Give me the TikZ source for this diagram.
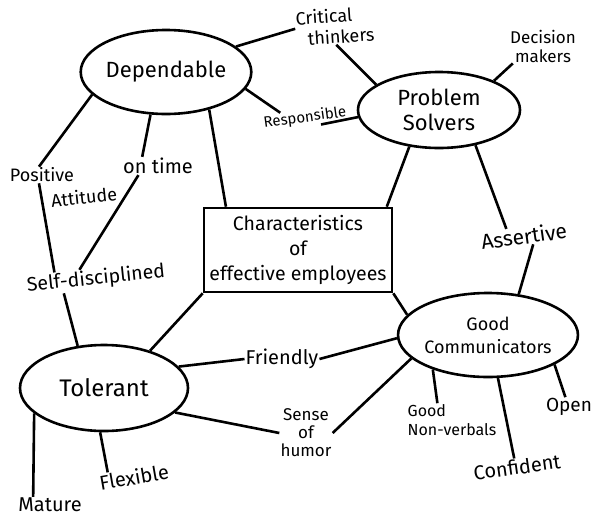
\documentclass[tikz,border=0pt]{standalone}
\usepackage{fontspec}
\setmainfont{Fira Sans}
\usetikzlibrary{shapes.geometric}
\tikzset{
  trait/.style={draw, ellipse, line width=2.6pt, inner sep=0pt, align=center,
    font=\fontsize{22}{25}\selectfont},
  quality/.style={inner sep=1pt, align=center, font=\fontsize{20}{21}\selectfont},
  link/.style={line width=2.6pt}
}
\begin{document}
\begin{tikzpicture}[x=1pt, y=-1pt]
\useasboundingbox (0,0) rectangle (592,517);

\node[draw, line width=2.6pt, minimum width=188pt, minimum height=84pt, align=center,
  inner sep=2pt, font=\fontsize{19.5}{25}\selectfont] (box) at (298,250) {Characteristics\\of\\effective employees};

\node[trait, minimum width=166pt, minimum height=84pt] (dep) at (166,72) {Dependable};
\node[trait, minimum width=162pt, minimum height=76pt] (solv) at (439,110) {Problem\\Solvers};
\node[trait, minimum width=168pt, minimum height=86pt, font=\fontsize{24}{26}\selectfont] (tol) at (104,388) {Tolerant};
\node[trait, minimum width=164pt, minimum height=84pt, font=\fontsize{18}{23}\selectfont] (comm) at (488,335) {Good\\Communicators};

\node[quality, rotate=4, align=left, font=\fontsize{18}{21}\selectfont] (crit) at (335,26) {Critical\\\hspace*{0.6em}thinkers};
\node[quality, rotate=8, font=\fontsize{15}{16}\selectfont] (resp) at (305,118) {Responsible};
\node[quality, font=\fontsize{17}{19}\selectfont] (dec) at (543,46) {Decision\\makers};
\node[quality, rotate=8, font=\fontsize{21}{22}\selectfont] (ass) at (524,236) {Assertive};
\node[quality] (ontime) at (158,166) {on time};
\node[quality, font=\fontsize{18}{19}\selectfont] (pos) at (42,175) {Positive};
\node[quality, rotate=6, font=\fontsize{18}{19}\selectfont] (att) at (84,197) {Attitude};
\node[quality, rotate=6, font=\fontsize{19.5}{21}\selectfont] (self) at (96,279) {Self-disciplined};
\node[quality] (fri) at (282,359) {Friendly};
\node[quality, font=\fontsize{17}{18}\selectfont] (sense) at (306,433) {Sense\\of\\humor};
\node[quality, align=left, font=\fontsize{16}{19}\selectfont] (verb) at (452,420) {Good\\Non-verbals};
\node[quality, rotate=8] (conf) at (517,467) {Confident};
\node[quality, font=\fontsize{19}{20}\selectfont] (open) at (569,407) {Open};
\node[quality, rotate=10] (flex) at (134,477) {Flexible};
\node[quality] (mat) at (50,505) {Mature};

% spokes
\foreach \a/\b in {dep.20/crit.west, crit.south/solv.158, dep.-12/resp.160, resp.-30/solv.185,
    solv.28/dec.210, solv.231/box.26, solv.316/ass.150, ass.-50/comm.53,
    dep.-41/box.149, dep.-110/ontime.150, ontime.205/self.145, dep.197/pos.110,
    pos.-110/self.165, self.198/tol.122, box.south west/tol.39, tol.16/fri.west,
    fri.east/comm.182, tol.341/sense.west, sense.east/comm.197, comm.212/verb.131,
    comm.283/conf.100, comm.336/open.110, tol.265/flex.160, tol.200/mat.154,
    box.south east/comm.166}
  \draw[link] (\a) -- (\b);
\end{tikzpicture}
\end{document}
